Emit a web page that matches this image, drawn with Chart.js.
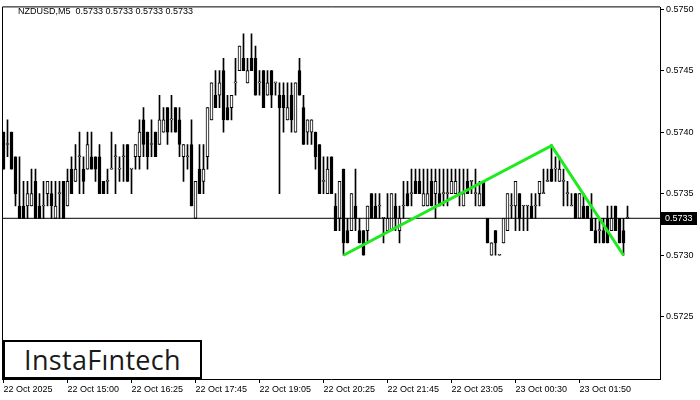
<!DOCTYPE html>
<html>
<head>
<meta charset="utf-8">
<script src="https://cdn.jsdelivr.net/npm/chart.js@4.4.1/dist/chart.umd.min.js"></script>
<style>
html, body { margin: 0; padding: 0; background: #fff; }
#wrap { position: relative; width: 700px; height: 400px; }
#header { position: absolute; left: 18px; top: 6px; font: 9px "Liberation Sans", Arial, sans-serif; color: #000; white-space: pre; }
#logo { position: absolute; left: 3px; top: 340px; width: 195px; height: 35px; border: 2px solid #000; background: #fff;
        font: 500 27px "Open Sans", sans-serif; color: #1a1a1a; text-align: center; line-height: 35px; letter-spacing: 0.3px; }
</style>
</head>
<body>
<div id="wrap">
  <canvas id="chart" width="700" height="400"></canvas>
  <div id="header">NZDUSD,M5  0.5733 0.5733 0.5733 0.5733</div>
  <div id="logo">InstaFıntech</div>
</div>
<script>
// M5 candles (index 1..157)
var opens = [
  0.5740,0.5739,0.5740,0.5738,0.5734,0.5734,0.5734,0.5734,0.5736,0.5734,
  0.5734,0.5735,0.5735,0.5733,0.5735,0.5736,0.5734,0.5737,0.5736,0.5738,
  0.5737,0.5737,0.5738,0.5738,0.5738,0.5736,0.5736,0.5737,0.5738,0.5737,
  0.5738,0.5739,0.5737,0.5738,0.5738,0.5741,0.5740,0.5739,0.5740,0.5739,
  0.5740,0.5742,0.5741,0.5742,0.5741,0.5738,0.5738,0.5739,0.5733,0.5737,
  0.5736,0.5738,0.5741,0.5743,0.5743,0.5745,0.5742,0.5742,0.5744,0.5745,
  0.5746,0.5744,0.5746,0.5746,0.5744,0.5745,0.5743,0.5745,0.5744,0.5743,
  0.5743,0.5741,0.5743,0.5740,0.5745,0.5742,0.5740,0.5740,0.5740,0.5739,
  0.5736,0.5735,0.5738,0.5734,0.5733,0.5737,0.5732,0.5732,0.5734,0.5732,
  0.5732,0.5732,0.5735,0.5734,0.5734,0.5733,0.5732,0.5732,0.5734,0.5732,
  0.5734,0.5735,0.5735,0.5736,0.5736,0.5734,0.5734,0.5736,0.5735,0.5735,
  0.5735,0.5735,0.5735,0.5735,0.5735,0.5734,0.5736,0.5736,0.5735,0.5734,
  0.5736,0.5733,0.5730,0.5732,0.5730,0.5731,0.5732,0.5734,0.5734,0.5735,
  0.5734,0.5734,0.5734,0.5734,0.5735,0.5735,0.5736,0.5737,0.5737,0.5736,
  0.5736,0.5735,0.5734,0.5735,0.5733,0.5734,0.5734,0.5733,0.5732,0.5732,
  0.5732,0.5733,0.5732,0.5734,0.5733,0.5732,0.5733
];
var highs = [
  0.5740,0.5741,0.5740,0.5738,0.5738,0.5736,0.5736,0.5737,0.5737,0.5735,
  0.5736,0.5736,0.5736,0.5736,0.5736,0.5736,0.5737,0.5738,0.5739,0.5740,
  0.5738,0.5740,0.5740,0.5738,0.5739,0.5736,0.5737,0.5740,0.5739,0.5738,
  0.5739,0.5739,0.5737,0.5739,0.5741,0.5742,0.5740,0.5741,0.5740,0.5743,
  0.5742,0.5742,0.5743,0.5742,0.5742,0.5739,0.5739,0.5741,0.5736,0.5739,
  0.5739,0.5742,0.5744,0.5745,0.5745,0.5746,0.5743,0.5743,0.5746,0.5747,
  0.5748,0.5746,0.5748,0.5747,0.5745,0.5745,0.5745,0.5745,0.5744,0.5744,
  0.5744,0.5744,0.5744,0.5744,0.5746,0.5743,0.5741,0.5741,0.5740,0.5739,
  0.5738,0.5738,0.5738,0.5735,0.5736,0.5737,0.5733,0.5735,0.5737,0.5733,
  0.5732,0.5734,0.5735,0.5735,0.5735,0.5733,0.5735,0.5735,0.5735,0.5734,
  0.5736,0.5736,0.5737,0.5737,0.5737,0.5737,0.5737,0.5737,0.5737,0.5737,
  0.5737,0.5737,0.5737,0.5737,0.5737,0.5737,0.5737,0.5736,0.5737,0.5736,
  0.5736,0.5733,0.5731,0.5732,0.5730,0.5733,0.5735,0.5735,0.5736,0.5735,
  0.5734,0.5734,0.5735,0.5735,0.5736,0.5737,0.5737,0.5739,0.5738,0.5738,
  0.5737,0.5736,0.5735,0.5735,0.5735,0.5735,0.5734,0.5735,0.5733,0.5733,
  0.5733,0.5734,0.5734,0.5734,0.5733,0.5733,0.5734
];
var lows = [
  0.5737,0.5738,0.5737,0.5734,0.5733,0.5733,0.5733,0.5734,0.5733,0.5733,
  0.5733,0.5734,0.5733,0.5733,0.5733,0.5733,0.5734,0.5735,0.5736,0.5735,
  0.5735,0.5737,0.5737,0.5736,0.5735,0.5735,0.5735,0.5737,0.5735,0.5736,
  0.5736,0.5736,0.5735,0.5737,0.5737,0.5738,0.5737,0.5738,0.5738,0.5739,
  0.5740,0.5739,0.5740,0.5740,0.5738,0.5736,0.5737,0.5734,0.5733,0.5735,
  0.5735,0.5737,0.5741,0.5742,0.5742,0.5740,0.5741,0.5741,0.5743,0.5745,
  0.5745,0.5744,0.5745,0.5743,0.5743,0.5742,0.5743,0.5742,0.5743,0.5735,
  0.5740,0.5741,0.5740,0.5740,0.5743,0.5739,0.5739,0.5739,0.5737,0.5735,
  0.5735,0.5735,0.5735,0.5732,0.5732,0.5730,0.5731,0.5732,0.5732,0.5731,
  0.5730,0.5731,0.5733,0.5733,0.5733,0.5731,0.5732,0.5732,0.5732,0.5731,
  0.5733,0.5734,0.5734,0.5735,0.5735,0.5734,0.5734,0.5734,0.5733,0.5734,
  0.5734,0.5734,0.5735,0.5735,0.5734,0.5734,0.5735,0.5735,0.5734,0.5734,
  0.5734,0.5731,0.5730,0.5730,0.5730,0.5731,0.5732,0.5733,0.5732,0.5732,
  0.5732,0.5732,0.5733,0.5733,0.5734,0.5735,0.5736,0.5736,0.5736,0.5736,
  0.5734,0.5734,0.5734,0.5733,0.5733,0.5733,0.5733,0.5732,0.5731,0.5731,
  0.5731,0.5731,0.5732,0.5732,0.5731,0.5730,0.5733
];
var closes = [
  0.5737,0.5739,0.5737,0.5735,0.5733,0.5733,0.5735,0.5735,0.5733,0.5733,
  0.5734,0.5736,0.5734,0.5734,0.5735,0.5733,0.5736,0.5735,0.5737,0.5738,
  0.5736,0.5739,0.5737,0.5737,0.5735,0.5735,0.5736,0.5737,0.5738,0.5737,
  0.5738,0.5736,0.5737,0.5739,0.5740,0.5739,0.5738,0.5739,0.5738,0.5741,
  0.5741,0.5740,0.5741,0.5740,0.5739,0.5739,0.5738,0.5734,0.5736,0.5735,
  0.5737,0.5742,0.5744,0.5742,0.5744,0.5741,0.5741,0.5743,0.5744,0.5747,
  0.5745,0.5745,0.5745,0.5743,0.5744,0.5742,0.5744,0.5743,0.5744,0.5742,
  0.5742,0.5742,0.5741,0.5744,0.5743,0.5739,0.5741,0.5741,0.5738,0.5735,
  0.5736,0.5737,0.5735,0.5732,0.5736,0.5731,0.5731,0.5735,0.5733,0.5731,
  0.5730,0.5734,0.5733,0.5733,0.5734,0.5733,0.5733,0.5735,0.5733,0.5733,
  0.5734,0.5734,0.5735,0.5735,0.5735,0.5735,0.5735,0.5734,0.5736,0.5734,
  0.5735,0.5735,0.5736,0.5736,0.5735,0.5735,0.5735,0.5736,0.5735,0.5735,
  0.5734,0.5731,0.5731,0.5731,0.5730,0.5733,0.5735,0.5734,0.5736,0.5733,
  0.5734,0.5734,0.5733,0.5734,0.5736,0.5735,0.5736,0.5736,0.5737,0.5737,
  0.5736,0.5735,0.5734,0.5733,0.5735,0.5733,0.5733,0.5732,0.5731,0.5732,
  0.5731,0.5731,0.5733,0.5732,0.5731,0.5731,0.5733
];

// time axis labels, one every 16 bars
var tickIdx = [1, 17, 33, 49, 65, 81, 97, 113, 129, 145];
var tickLabels = ['22 Oct 2025', '22 Oct 15:00', '22 Oct 16:25', '22 Oct 17:45', '22 Oct 19:05',
                  '22 Oct 20:25', '22 Oct 21:45', '22 Oct 23:05', '23 Oct 00:30', '23 Oct 01:50'];
var priceTicks = [0.5725, 0.5730, 0.5735, 0.5740, 0.5745, 0.5750];

// double top pattern outline
var patternIdx = [86, 138, 156];
var patternPrice = [0.5730, 0.57389, 0.5730];

var lastPrice = 0.5733;

var xMin = 0.625, xMax = 165.125;

var bodies = opens.map((o, i) => ({ x: i + 1, y: [o, closes[i]] }));
var wicks = highs.map((h, i) => ({ x: i + 1, y: [lows[i], h] }));
var pattern = patternIdx.map((v, i) => ({ x: v, y: patternPrice[i] }));
var bidLine = [{ x: xMin, y: lastPrice }, { x: xMax, y: lastPrice }];

var frame = {
    id: 'frame',
    afterDraw(chart) {
        var a = chart.chartArea, c = chart.ctx;
        c.save();
        c.strokeStyle = '#000';
        c.lineWidth = 1;
        c.beginPath();
        c.moveTo(a.left + 0.5, a.bottom);
        c.lineTo(a.left + 0.5, a.top - 0.5);
        c.lineTo(a.right, a.top - 0.5);
        c.stroke();
        // current price tag on the axis
        var py = Math.round(chart.scales.y.getPixelForValue(lastPrice));
        c.fillStyle = '#000';
        c.fillRect(a.right + 1, py - 6, 36, 13);
        c.fillStyle = '#fff';
        c.font = '9px "Liberation Sans", Arial, sans-serif';
        c.textBaseline = 'middle';
        c.fillText(lastPrice.toFixed(4), a.right + 5, py + 0.5);
        c.restore();
    }
};

var ctx = document.getElementById('chart');
var myChart = new Chart(ctx, {
    type: 'bar',
    data: {
        datasets: [{
            type: 'line',
            data: pattern,
            borderColor: 'rgb(30, 235, 30)',
            borderWidth: 3,
            pointRadius: 0,
            order: 0
        }, {
            type: 'line',
            data: bidLine,
            borderColor: '#000',
            borderWidth: 1,
            pointRadius: 0,
            order: 1
        }, {
            data: bodies,
            backgroundColor: (c) => closes[c.dataIndex] < opens[c.dataIndex] ? '#000' : '#fff',
            borderColor: '#000',
            borderWidth: 1,
            borderSkipped: false,
            barThickness: 3,
            minBarLength: 1,
            grouped: false,
            order: 2
        }, {
            data: wicks,
            backgroundColor: '#000',
            borderWidth: 0,
            barThickness: 1,
            grouped: false,
            order: 3
        }]
    },
    options: {
        responsive: false,
        animation: false,
        layout: { padding: { left: 2, top: 3, right: 0, bottom: 0 } },
        plugins: { legend: { display: false }, tooltip: { enabled: false } },
        scales: {
            x: {
                type: 'linear',
                min: xMin,
                max: xMax,
                offset: false,
                afterBuildTicks: (s) => { s.ticks = tickIdx.map(v => ({ value: v })); },
                afterFit: (s) => { s.height = 21; },
                ticks: {
                    autoSkip: false,
                    maxRotation: 0,
                    minRotation: 0,
                    align: 'start',
                    padding: 1,
                    color: '#000',
                    font: { family: '"Liberation Sans", Arial, sans-serif', size: 9 },
                    callback: (v) => tickLabels[tickIdx.indexOf(v)]
                },
                grid: { drawOnChartArea: false, offset: false, tickLength: 4, color: '#000' },
                border: { display: true, color: '#000' }
            },
            y: {
                position: 'right',
                min: 0.571994,
                max: 0.575014,
                afterBuildTicks: (s) => { s.ticks = priceTicks.map(v => ({ value: v })); },
                afterFit: (s) => { s.width = 40; },
                ticks: {
                    padding: 2,
                    color: '#000',
                    font: { family: '"Liberation Sans", Arial, sans-serif', size: 9 },
                    callback: (v) => v.toFixed(4)
                },
                grid: { drawOnChartArea: false, tickLength: 4, color: '#000' },
                border: { display: true, color: '#000' }
            }
        }
    },
    plugins: [frame]
});
</script>
</body>
</html>
